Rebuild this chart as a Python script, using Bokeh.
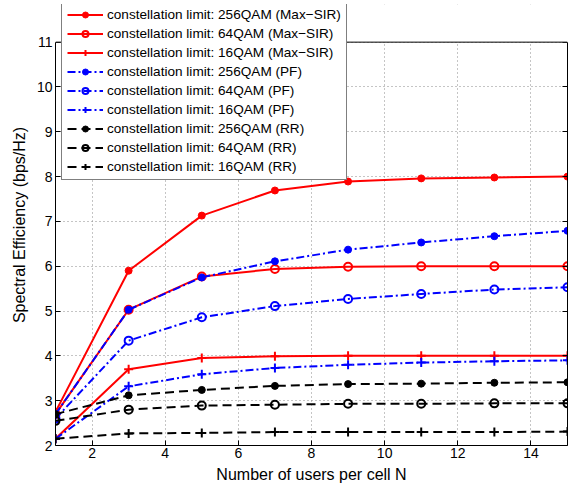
from bokeh.plotting import figure
from bokeh.models import (Legend, LegendItem, LinearAxis, Range1d, FixedTicker,
                          CustomJSTickFormatter, BoxAnnotation, Span)
from bokeh.embed import file_html
from bokeh.resources import INLINE

# ---- data ----
users = [1, 3, 5, 7, 9, 11, 13, 15]
maxsir_256 = [2.75, 5.90, 7.13, 7.69, 7.89, 7.96, 7.98, 8.00]
maxsir_64 = [2.70, 5.03, 5.77, 5.94, 5.99, 6.00, 6.00, 6.00]
maxsir_16 = [2.15, 3.70, 3.95, 3.99, 4.00, 4.00, 4.00, 4.00]
pf_256 = [2.70, 5.03, 5.75, 6.11, 6.37, 6.53, 6.67, 6.79]
pf_64 = [2.60, 4.34, 4.86, 5.11, 5.27, 5.38, 5.48, 5.53]
pf_16 = [2.15, 3.32, 3.59, 3.73, 3.80, 3.85, 3.88, 3.90]
rr_256 = [2.70, 3.12, 3.24, 3.33, 3.37, 3.38, 3.40, 3.41]
rr_64 = [2.55, 2.80, 2.89, 2.91, 2.93, 2.93, 2.94, 2.94]
rr_16 = [2.15, 2.27, 2.28, 2.30, 2.30, 2.30, 2.30, 2.31]

labels = [
    "constellation limit: 256QAM (Max\u2212SIR)",
    "constellation limit: 64QAM (Max\u2212SIR)",
    "constellation limit: 16QAM (Max\u2212SIR)",
    "constellation limit: 256QAM (PF)",
    "constellation limit: 64QAM (PF)",
    "constellation limit: 16QAM (PF)",
    "constellation limit: 256QAM (RR)",
    "constellation limit: 64QAM (RR)",
    "constellation limit: 16QAM (RR)",
]
x_ticks = [2, 4, 6, 8, 10, 12, 14]
y_ticks = [2, 3, 4, 5, 6, 7, 8, 9, 10, 11]
x_min, x_max = 1, 15
y_min, y_max = 2, 11

FONT = "Liberation Sans"

# frame extends a little above y_max so the legend (which sits above the axes box) is not clipped
p = figure(width=572, height=485, output_backend="svg", toolbar_location=None,
           x_range=Range1d(x_min, x_max), y_range=Range1d(y_min, 11.84),
           min_border_left=55, min_border_right=5, min_border_top=4, min_border_bottom=10)
p.outline_line_color = None
p.background_fill_color = "white"
p.border_fill_color = "white"

for ax in (p.xaxis[0], p.yaxis[0]):
    ax.major_tick_in = 5
    ax.major_tick_out = 0
    ax.minor_tick_line_color = None
    ax.major_label_text_font = FONT
    ax.major_label_text_font_size = "14px"
    ax.major_label_text_color = "black"
    ax.axis_label_text_font = FONT
    ax.axis_label_text_font_size = "16px"
    ax.axis_label_text_font_style = "normal"
    ax.axis_label_text_color = "black"
    ax.axis_line_color = "black"
    ax.major_tick_line_color = "black"

p.xaxis[0].ticker = FixedTicker(ticks=x_ticks)
p.yaxis[0].ticker = FixedTicker(ticks=y_ticks)
p.yaxis[0].bounds = (y_min, y_max)
p.xaxis[0].axis_label = "Number of users per cell N"
p.yaxis[0].axis_label = "Spectral Efficiency (bps/Hz)"
p.xaxis[0].major_label_standoff = 2
p.xaxis[0].axis_label_standoff = 5
p.yaxis[0].major_label_standoff = 3
p.yaxis[0].axis_label_standoff = 6

# right-hand box side with inward ticks, no labels
blank = CustomJSTickFormatter(code="return ''")
r_ax = LinearAxis(ticker=FixedTicker(ticks=y_ticks), bounds=(y_min, y_max),
                  major_tick_in=5, major_tick_out=0, minor_tick_line_color=None,
                  formatter=blank, major_label_standoff=0)
p.add_layout(r_ax, "right")

p.xgrid.ticker = FixedTicker(ticks=x_ticks)
p.ygrid.ticker = FixedTicker(ticks=y_ticks)
p.grid.grid_line_color = "#8a8a8a"
p.grid.grid_line_dash = "1 3"
p.grid.grid_line_width = 1

series = [
    (maxsir_256, "#ff0000", "solid", "circle", True),
    (maxsir_64, "#ff0000", "solid", "circle", False),
    (maxsir_16, "#ff0000", "solid", "cross", True),
    (pf_256, "#0000ff", "8 3 2 3", "circle", True),
    (pf_64, "#0000ff", "8 3 2 3", "circle", False),
    (pf_16, "#0000ff", "8 3 2 3", "cross", True),
    (rr_256, "black", "9 5", "circle", True),
    (rr_64, "black", "9 5", "circle", False),
    (rr_16, "black", "9 5", "cross", True),
]

items = []
for (vals, col, dash, marker, filled), lab in zip(series, labels):
    ln = p.line(users, vals, line_color=col, line_width=2, line_dash=dash)
    if marker == "circle" and filled:
        sc = p.scatter(users, vals, marker="circle", size=7, fill_color=col, line_color=col, line_width=1)
    elif marker == "circle":
        sc = p.scatter(users, vals, marker="circle", size=8, fill_color=None, line_color=col, line_width=2)
    else:
        sc = p.scatter(users, vals, marker="cross", size=9, line_color=col, line_width=2)
    items.append(LegendItem(label=lab, renderers=[ln, sc]))

# blank out the area above the axes box, then draw the top side of the box
p.add_layout(BoxAnnotation(bottom=y_max, fill_color="white", fill_alpha=1, line_color=None))
p.add_layout(Span(location=y_max, dimension="width", line_color="black", line_width=1))

legend = Legend(items=items, location=(6, 265), orientation="vertical")
legend.label_text_font = FONT
legend.label_text_font_size = "13.6px"
legend.label_text_color = "black"
legend.glyph_width = 36
legend.glyph_height = 15
legend.label_height = 15
legend.label_standoff = 4
legend.spacing = 4
legend.padding = 5
legend.margin = 0
legend.border_line_color = "black"
legend.border_line_width = 1
legend.background_fill_color = "white"
legend.background_fill_alpha = 1
p.add_layout(legend, "center")

open("out.html", "w").write(file_html(p, INLINE))
